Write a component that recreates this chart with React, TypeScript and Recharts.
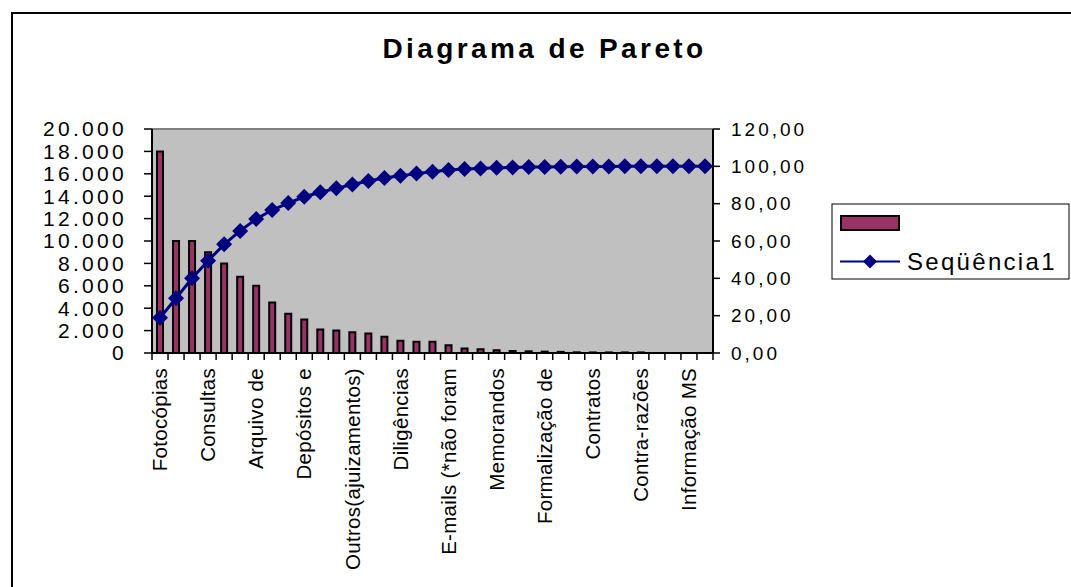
import {
  Bar,
  CartesianGrid,
  ComposedChart,
  Legend,
  Line,
  ReferenceLine,
  XAxis,
  YAxis,
} from "recharts";

// Excel-style Pareto: counts as bars (left axis), cumulative % as line (right axis)
const FONT = "'Liberation Sans', Arial, sans-serif";
const C_BAR = "#993366";
const C_LINE = "#000080";
const C_PLOT = "#C0C0C0";

// only every third category name is readable in the source
const categories = [
  "Fotocópias", "", "",
  "Consultas", "", "",
  "Arquivo de", "", "",
  "Depósitos e", "", "",
  "Outros(ajuizamentos)", "", "",
  "Diligências", "", "",
  "E-mails (*não foram", "", "",
  "Memorandos", "", "",
  "Formalização de", "", "",
  "Contratos", "", "",
  "Contra-razões", "", "",
  "Informação MS", "",
];

const counts = [
  18000, 10000, 10000, 9000, 8000, 6800, 6000, 4500, 3500, 3000,
  2100, 2000, 1850, 1750, 1450, 1100, 1000, 1000, 700, 400,
  330, 240, 180, 150, 120, 100, 60, 50, 50, 50,
  50, 0, 0, 0, 0,
];

const cumulativePct = [
  18.9, 29.3, 40.0, 49.4, 58.2, 65.4, 71.8, 76.6, 80.3, 83.7,
  86.1, 88.2, 90.3, 92.1, 93.7, 95.0, 96.1, 97.1, 98.0, 98.6,
  98.9, 99.2, 99.4, 99.6, 99.7, 99.8, 99.9, 99.9, 99.9, 100,
  100, 100, 100, 100, 100,
];

const countTicks = [0, 2000, 4000, 6000, 8000, 10000, 12000, 14000, 16000, 18000, 20000];
const pctTicks = [0, 20, 40, 60, 80, 100, 120];

const data = categories.map((name, i) => ({
  name,
  count: counts[i],
  pct: cumulativePct[i],
}));

// 20000 -> "20.000"
const fmtCount = (v: number) => String(v).replace(/\B(?=(\d{3})+(?!\d))/g, ".");
// 100 -> "100,00"
const fmtPct = (v: number) => v.toFixed(2).replace(".", ",");

function Diamond({ cx, cy, r = 8 }: any) {
  if (cx == null || cy == null) return null;
  return (
    <path
      d={`M${cx},${cy - r}L${cx + r},${cy}L${cx},${cy + r}L${cx - r},${cy}Z`}
      fill={C_LINE}
    />
  );
}

// tick marks sit on category boundaries like Excel, labels rotated
function CategoryTick({ x, y, payload, index }: any) {
  const half = payload?.offset ?? 8;
  const label = payload?.value;
  const ly = y + 15;
  return (
    <g>
      <line x1={x - half} x2={x - half} y1={y} y2={y + 7} stroke="#000" strokeWidth={1.5} />
      {index === categories.length - 1 && (
        <line x1={x + half} x2={x + half} y1={y} y2={y + 7} stroke="#000" strokeWidth={1.5} />
      )}
      {label ? (
        <text
          x={x}
          y={ly}
          dy="0.35em"
          transform={`rotate(-90, ${x}, ${ly})`}
          textAnchor="end"
          fontSize={20.5}
          letterSpacing={0.3}
          fontFamily={FONT}
          fill="#000"
        >
          {label}
        </text>
      ) : null}
    </g>
  );
}

function LegendBox({ payload }: any) {
  const items = payload ?? [];
  return (
    <svg width={240} height={78} style={{ display: "block" }}>
      <rect x={1} y={1} width={237} height={75} fill="#fff" stroke="#000" strokeWidth={1} />
      {items.map((entry: any, i: number) => {
        const cy = 20 + i * 38.5;
        return (
          <g key={i}>
            {entry.type === "line" ? (
              <>
                <line x1={9} x2={69} y1={cy} y2={cy} stroke={entry.color} strokeWidth={2} />
                <Diamond cx={39} cy={cy} r={7} />
              </>
            ) : (
              <rect x={10} y={cy - 7} width={58} height={14} fill={entry.color} stroke="#000" strokeWidth={2} />
            )}
            <text
              x={76}
              y={cy + 8}
              fontSize={24}
              letterSpacing={2.3}
              fontFamily={FONT}
              fill="#000"
            >
              {entry.value}
            </text>
          </g>
        );
      })}
    </svg>
  );
}

export default function App() {
  return (
    <div
      style={{
        position: "absolute",
        left: 0,
        top: 0,
        width: 1071,
        height: 587,
        overflow: "hidden",
        background: "#fff",
        fontFamily: FONT,
      }}
    >
      <div
        style={{
          position: "absolute",
          left: 11,
          top: 12,
          width: 1100,
          height: 600,
          borderLeft: "2px solid #000",
          borderTop: "2px solid #000",
        }}
      />
      <ComposedChart
        width={1071}
        height={587}
        data={data}
        margin={{ top: 129, right: 258, bottom: 0, left: 0 }}
        barCategoryGap={0}
        style={{ position: "absolute", left: 0, top: 0 }}
      >
        <CartesianGrid horizontal={false} vertical={false} fill={C_PLOT} />
        <ReferenceLine yAxisId="left" y={20000} stroke="#808080" strokeWidth={2} />
        <XAxis
          dataKey="name"
          interval={0}
          height={234}
          tickSize={0}
          tickMargin={0}
          tickLine={false}
          axisLine={{ stroke: "#000", strokeWidth: 2 }}
          tick={<CategoryTick />}
        />
        <YAxis
          yAxisId="left"
          width={152}
          domain={[0, 20000]}
          ticks={countTicks}
          interval={0}
          tickFormatter={fmtCount}
          tickSize={8}
          tickMargin={17}
          axisLine={{ stroke: "#000", strokeWidth: 2 }}
          tickLine={{ stroke: "#000", strokeWidth: 1.5 }}
          tick={{ fontSize: 21, fill: "#000", fontFamily: FONT, letterSpacing: 3.3 }}
        />
        <YAxis
          yAxisId="right"
          orientation="right"
          width={100}
          domain={[0, 120]}
          ticks={pctTicks}
          interval={0}
          tickFormatter={fmtPct}
          tickSize={7}
          tickMargin={11}
          axisLine={{ stroke: "#000", strokeWidth: 2 }}
          tickLine={{ stroke: "#000", strokeWidth: 1.5 }}
          tick={{ fontSize: 19, fill: "#000", fontFamily: FONT, letterSpacing: 3 }}
        />
        <Legend
          layout="horizontal"
          verticalAlign="middle"
          align="center"
          wrapperStyle={{ left: 831, top: 203, width: 240, height: 78 }}
          content={(p: any) => <LegendBox {...p} />}
        />
        <Bar
          yAxisId="left"
          dataKey="count"
          name=" "
          fill={C_BAR}
          stroke="#000"
          strokeWidth={2}
          barSize={6}
          isAnimationActive={false}
        />
        <Line
          yAxisId="right"
          dataKey="pct"
          name="Seqüência1"
          stroke={C_LINE}
          strokeWidth={3}
          dot={(p: any) => <Diamond key={p.index} cx={p.cx} cy={p.cy} />}
          activeDot={false}
          isAnimationActive={false}
        />
      </ComposedChart>
      <div
        style={{
          position: "absolute",
          left: 0,
          top: 35,
          width: 1083,
          paddingLeft: 3,
          textAlign: "center",
          fontSize: 28,
          fontWeight: 700,
          letterSpacing: 3.4,
          lineHeight: "28px",
          color: "#000",
        }}
      >
        Diagrama de Pareto
      </div>
    </div>
  );
}
